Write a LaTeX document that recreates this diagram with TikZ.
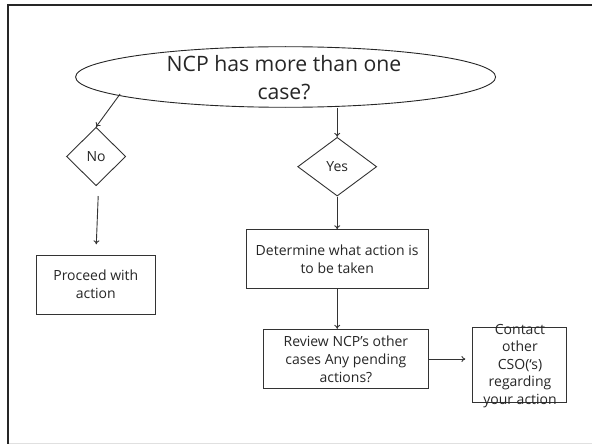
\documentclass[tikz,border=0pt]{standalone}
\usepackage{fontspec}
\setmainfont{Open Sans}
\usetikzlibrary{shapes.geometric,arrows.meta}
\begin{document}
\begin{tikzpicture}[x=1pt,y=-1pt,
  line/.style={draw=black!80,line width=0.9pt},
  arr/.style={line,-{To[length=4pt,width=6pt]}},
  boxshape/.style={draw=black!80,line width=0.9pt,rectangle,inner sep=0pt},
  dshape/.style={draw=black!80,line width=0.9pt,diamond,inner sep=0pt,text=black!85,font=\fontsize{14}{17}\selectfont},
  btext/.style={align=center,font=\fontsize{14}{18}\selectfont,text=black!85,inner sep=0pt}
]
\useasboundingbox (0,0) rectangle (592,444);
% frame
\draw[black!85,line width=2.6pt] (8,444) -- (8,5) -- (592,5);
\draw[black!12,line width=1pt] (9,443) -- (592,443);

% ellipse
\node[draw=black!85,line width=0.9pt,ellipse,inner sep=0pt,minimum width=420pt,minimum height=60.6pt] (ell) at (285.6,77) {};
\node[align=center,inner sep=0pt,text=black!85,font=\fontsize{21.2}{28.5}\selectfont] (elltxt) at (284,77.5) {NCP has more than one\\case?};

% diamonds
\node[dshape,minimum width=59.3pt,minimum height=58.4pt] (no) at (96.1,156.5) {No};
\node[dshape,minimum width=79pt,minimum height=58.7pt] (yes) at (337.2,166.7) {Yes};

% boxes
\node[boxshape,minimum width=119pt,minimum height=59.3pt] (proc) at (95.8,284.7) {};
\node[btext] (proctxt) at (proc.center) {Proceed with\\action};
\node[boxshape,minimum width=182.4pt,minimum height=59pt] (det) at (337.2,259.2) {};
\node[btext] (dettxt) at (det.center) {Determine what action is\\to be taken};
\node[boxshape,minimum width=165pt,minimum height=59pt] (rev) at (345.9,358.8) {};
\node[btext] (revtxt) at (rev.center) {Review NCP’s other\\cases Any pending\\actions?};
\node[boxshape,minimum width=94pt,minimum height=75.7pt] (con) at (519.9,364.9) {};
\node[align=center,inner sep=0pt,text=black!85,font=\fontsize{14}{17.5}\selectfont] (contxt) at (520,366) {Contact\\other\\CSO(‘s)\\regarding\\your action};

% connectors
\coordinate (ns) at (120.1,94);
\draw[arr] (ns) -- (no.north);
\coordinate (n1) at (98.2,196);
\coordinate (n2) at (96.3,244.3);
\draw[arr] (n1) -- (n2);
\draw[arr] (ell.south -| yes.north) -- (yes.north);
\draw[arr] (yes.south) -- (yes.south |- det.north);
\draw[arr] (det.south -| yes.south) -- (yes.south |- rev.north);
\coordinate (c1) at (465.4,359);
\draw[arr] (rev.east |- c1) -- (c1);
\end{tikzpicture}
\end{document}
